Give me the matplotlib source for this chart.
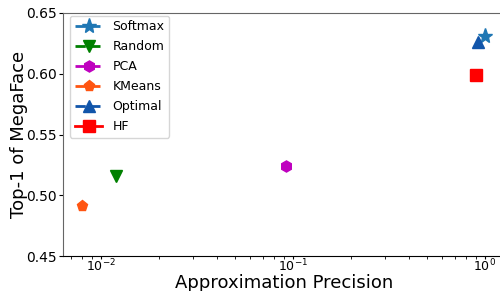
import matplotlib
matplotlib.use("Agg")
import matplotlib.pyplot as plt

methods = ["Softmax", "Random", "PCA", "KMeans", "Optimal", "HF"]
precision = [1.0, 0.012, 0.092, 0.008, 0.92, 0.90]
top1 = [0.631, 0.516, 0.524, 0.491, 0.626, 0.599]
colors = ["#1f77b4", "green", "m", "#ff5511", "#1155aa", "red"]
markers = ["*", "v", "h", "p", "^", "s"]
styles = ["--", "--", "--", "--", "--", "-"]
msizes = [11, 8, 8, 8, 8, 8]

fig = plt.figure(figsize=(5, 2.91), dpi=100)
ax = fig.add_axes([63/500, 1-256/291, (505-63)/500, (256-13)/291])
for m, x, y, c, mk, ls, ms in zip(methods, precision, top1, colors, markers, styles, msizes):
    ax.plot([x], [y], linestyle=ls, color=c, marker=mk, markersize=ms, label=m, linewidth=2)
ax.set_xscale("log")
ax.set_xlim(10**(-2 - 38/192), 10**(-2 + 404/192))
ax.set_ylim(0.45, 0.65)
ax.set_yticks([0.45, 0.50, 0.55, 0.60, 0.65])
ax.set_xlabel("Approximation Precision", fontsize=13, va="top")
ax.xaxis.set_label_coords(0.5, -18.5/243)
ax.set_ylabel("Top-1 of MegaFace", fontsize=13)
ax.yaxis.set_label_coords(-35/442, 0.5)
ax.tick_params(axis="y", labelsize=10, length=3, pad=1.5)
ax.tick_params(axis="x", labelsize=9, pad=-0.5, length=2)
ax.tick_params(which="minor", length=2)
for s in ["left", "top"]:
    ax.spines[s].set_color("#666666")
ax.spines["right"].set_visible(False)
ax.legend(loc="upper left", fontsize=9, handlelength=2.2, labelspacing=0.55,
          borderaxespad=0.2, bbox_to_anchor=(0.01, 1.0))
fig.savefig("out.png", dpi=100)
